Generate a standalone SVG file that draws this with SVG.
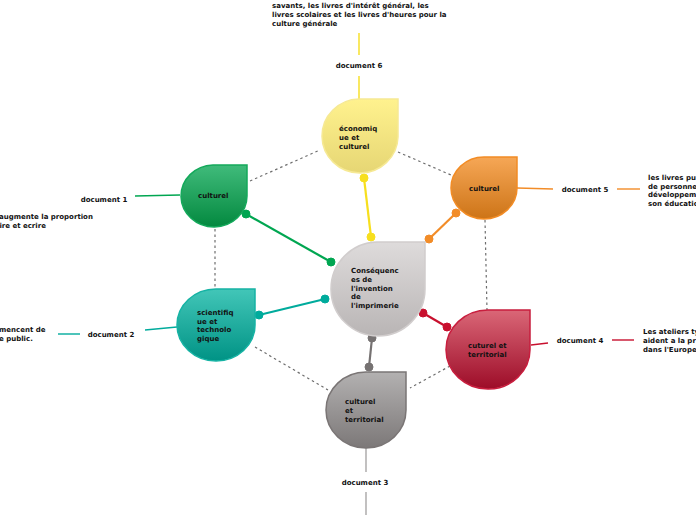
<svg xmlns="http://www.w3.org/2000/svg" width="696" height="520" viewBox="0 0 696 520">
<defs>
<linearGradient id="gC" x1="0" y1="0" x2="0" y2="1"><stop offset="0" stop-color="#dedbdb"/><stop offset="1" stop-color="#b9b5b5"/></linearGradient>
<linearGradient id="gY" x1="0" y1="0" x2="0" y2="1"><stop offset="0" stop-color="#fff28e"/><stop offset="1" stop-color="#e6d674"/></linearGradient>
<linearGradient id="gG" x1="0" y1="0" x2="0" y2="1"><stop offset="0" stop-color="#40bb7b"/><stop offset="1" stop-color="#03893f"/></linearGradient>
<linearGradient id="gO" x1="0" y1="0" x2="0" y2="1"><stop offset="0" stop-color="#f6a756"/><stop offset="1" stop-color="#cd7417"/></linearGradient>
<linearGradient id="gT" x1="0" y1="0" x2="0" y2="1"><stop offset="0" stop-color="#42c6b8"/><stop offset="1" stop-color="#009385"/></linearGradient>
<linearGradient id="gR" x1="0" y1="0" x2="0" y2="1"><stop offset="0" stop-color="#da6777"/><stop offset="1" stop-color="#9d0c28"/></linearGradient>
<linearGradient id="gK" x1="0" y1="0" x2="0" y2="1"><stop offset="0" stop-color="#b3b1b1"/><stop offset="1" stop-color="#7c7878"/></linearGradient>
</defs>
<style>
text{font-family:"DejaVu Sans",Verdana,sans-serif;font-weight:bold;font-size:7px;fill:#111}
.dash{stroke:#6e6e6e;stroke-width:1.2;stroke-dasharray:2.5 3;fill:none}
.c{stroke-width:2.2;fill:none}
.l{stroke-width:1.4;fill:none}
</style>
<g id="connectors">
<line class="dash" x1="250" y1="181" x2="320" y2="150"/>
<line class="dash" x1="398" y1="152" x2="451" y2="175"/>
<line class="dash" x1="215" y1="229" x2="215" y2="289"/>
<line class="dash" x1="485" y1="220" x2="487" y2="310"/>
<line class="dash" x1="255" y1="347" x2="328" y2="390"/>
<line class="dash" x1="450" y1="366" x2="410" y2="388"/>
<g stroke="#f7df1e" fill="#f7df1e"><line class="c" x1="364" y1="178" x2="371" y2="237"/><circle cx="364" cy="178" r="4"/><circle cx="371" cy="237" r="4"/></g>
<g stroke="#f28c28" fill="#f28c28"><line class="c" x1="456" y1="213" x2="429" y2="239"/><circle cx="456" cy="213" r="4"/><circle cx="429" cy="239" r="4"/></g>
<g stroke="#00a651" fill="#00a651"><line class="c" x1="246" y1="214" x2="331" y2="262"/><circle cx="246" cy="214" r="4"/><circle cx="331" cy="262" r="4"/></g>
<g stroke="#00ab9c" fill="#00ab9c"><line class="c" x1="259" y1="315" x2="325" y2="299"/><circle cx="259" cy="315" r="4"/><circle cx="325" cy="299" r="4"/></g>
<g stroke="#c8102e" fill="#c8102e"><line class="c" x1="423" y1="313" x2="447" y2="327"/><circle cx="423" cy="313" r="4"/><circle cx="447" cy="327" r="4"/></g>
<g stroke="#767272" fill="#767272"><line class="c" x1="372" y1="338" x2="369" y2="367"/><circle cx="372" cy="338" r="4"/><circle cx="369" cy="367" r="4"/></g>
<g stroke="#f7df1e"><line class="l" x1="359" y1="33" x2="359" y2="55"/><line class="l" x1="359" y1="76" x2="359" y2="99"/></g>
<g stroke="#00a651"><line class="l" x1="135" y1="196" x2="180" y2="195"/></g>
<g stroke="#00ab9c"><line class="l" x1="58" y1="334" x2="80" y2="334"/><line class="l" x1="145" y1="330" x2="177" y2="327"/></g>
<g stroke="#f28c28"><line class="l" x1="517" y1="188" x2="553" y2="189"/><line class="l" x1="617" y1="189" x2="640" y2="189"/></g>
<g stroke="#c8102e"><line class="l" x1="531" y1="345" x2="548" y2="343"/><line class="l" x1="612" y1="340" x2="634" y2="340"/></g>
<g stroke="#a8a6a6"><line class="l" x1="366" y1="448" x2="366" y2="472"/><line class="l" x1="366" y1="492" x2="366" y2="515"/></g>
</g>
<g id="center">
<path d="M377,242 H425 V289 A47,47 0 1 1 377,242 Z" fill="url(#gC)" stroke="#d1cdcd" stroke-width="1.5"/>
<text x="351" y="273">Conséquenc</text><text x="351" y="282">es de</text><text x="351" y="290.5">l'invention</text><text x="351" y="299">de</text><text x="351" y="307.5">l'imprimerie</text>
</g>
<g id="n-yellow">
<path d="M359,99 H398 V137 A38,37 0 1 1 359,99 Z" fill="url(#gY)" stroke="#f6e994" stroke-width="1.5"/>
<text x="339" y="131">économiq</text><text x="339" y="140">ue et</text><text x="339" y="149">culturel</text>
</g>
<g id="n-green">
<path d="M213,165 H247 V196 A33,31 0 1 1 213,165 Z" fill="url(#gG)" stroke="#14a95b" stroke-width="1.5"/>
<text x="198" y="198">culturel</text>
</g>
<g id="n-orange">
<path d="M484,157 H517 V188 A33,31 0 1 1 484,157 Z" fill="url(#gO)" stroke="#f28c25" stroke-width="1.5"/>
<text x="469" y="191">culturel</text>
</g>
<g id="n-teal">
<path d="M216,289 H255 V325 A39,36 0 1 1 216,289 Z" fill="url(#gT)" stroke="#16b3a4" stroke-width="1.5"/>
<text x="197" y="315">scientifiq</text><text x="197" y="323.5">ue et</text><text x="197" y="332">technolo</text><text x="197" y="341">gique</text>
</g>
<g id="n-red">
<path d="M488,310 H530 V349 A42,39.5 0 1 1 488,310 Z" fill="url(#gR)" stroke="#c81e3e" stroke-width="1.5"/>
<text x="468" y="348">cuturel et</text><text x="468" y="357">territorial</text>
</g>
<g id="n-gray">
<path d="M366,372 H406 V410 A40,38 0 1 1 366,372 Z" fill="url(#gK)" stroke="#7a7575" stroke-width="1.5"/>
<text x="345" y="404">culturel</text><text x="345" y="413">et</text><text x="345" y="421.5">territorial</text>
</g>
<g id="doc6">
<text x="359" y="68" text-anchor="middle">document 6</text>
<text x="272" y="7.5">savants, les livres d'intérêt général, les</text>
<text x="272" y="17">livres scolaires et les livres d'heures pour la</text>
<text x="272" y="25.5">culture générale</text>
</g>
<g id="doc1">
<text x="104" y="202" text-anchor="middle">document 1</text>
<text x="-1" y="219">augmente la proportion</text>
<text x="-3" y="228">lire et ecrire</text>
</g>
<g id="doc2">
<text x="111" y="336.5" text-anchor="middle">document 2</text>
<text x="-1" y="331.5">mencent de</text>
<text x="-1" y="340.5">e public.</text>
</g>
<g id="doc5">
<text x="585" y="191.5" text-anchor="middle">document 5</text>
<text x="648" y="180">les livres pu</text><text x="648" y="188.5">de personne</text><text x="648" y="197">développem</text><text x="648" y="205.5">son éducatio</text>
</g>
<g id="doc4">
<text x="580" y="343" text-anchor="middle">document 4</text>
<text x="643" y="334">Les ateliers ty</text><text x="643" y="343">aident a la pr</text><text x="643" y="351.5">dans l'Europe</text>
</g>
<g id="doc3">
<text x="365" y="484.5" text-anchor="middle">document 3</text>
</g>
</svg>
